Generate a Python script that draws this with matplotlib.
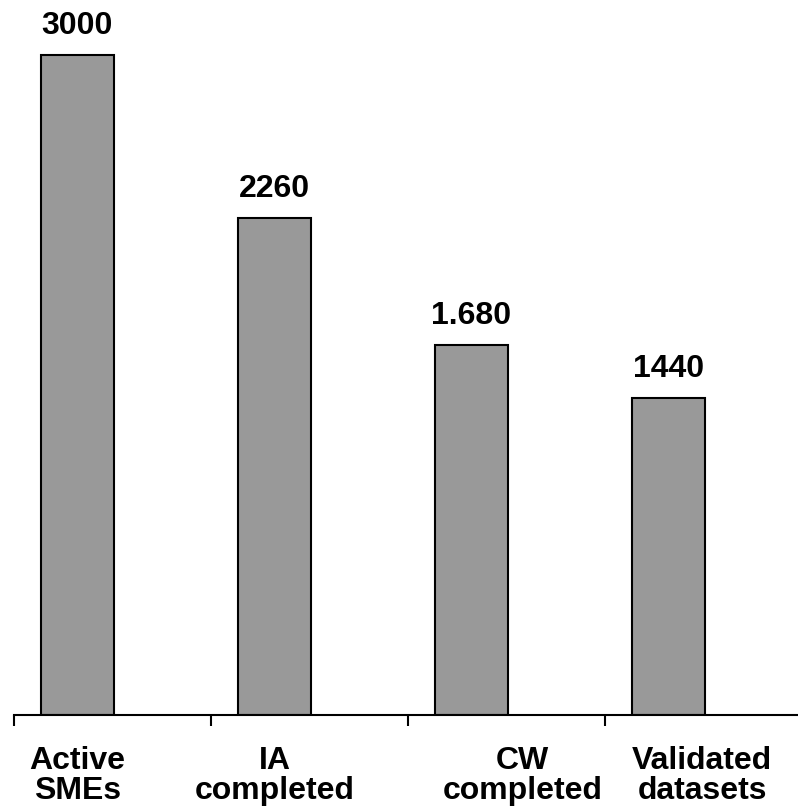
import matplotlib.pyplot as plt
import numpy as np

categories = ["Active\nSMEs", "IA\ncompleted", "CW\ncompleted", "Validated\ndatasets"]
values = [3000, 2260, 1680, 1440]
value_labels = ["3000", "2260", "1.680", "1440"]

plt.rcParams["font.family"] = ["Liberation Sans", "DejaVu Sans"]
plt.rcParams["font.weight"] = "bold"

fig = plt.figure(figsize=(7.98, 8.12), dpi=100)
ax = fig.add_axes([14 / 798, 96 / 812, 784 / 798, 716 / 812])

x = np.arange(len(values))
ax.bar(x, values, width=0.37, color="#999999", edgecolor="black", linewidth=1.5)

for xi, v, lab in zip(x, values, value_labels):
    ax.text(xi, v + 100, lab, ha="center", va="baseline", fontsize=23, fontweight="bold")

# category labels sit a little right of the bars for the last two groups
label_shift = [0.0, 0.0, 0.26, 0.17]
for xi, cat, dx in zip(x, categories, label_shift):
    ax.text(xi + dx, -135, cat, ha="center", va="top", fontsize=23,
            fontweight="bold", linespacing=1.03)

ax.set_xlim(-0.322, 3.657)
ax.set_ylim(0, 3255)
ax.set_xticks(x - 0.322)
ax.set_xticklabels([])
ax.tick_params(axis="x", direction="out", length=8, width=1.5)
ax.set_yticks([])
for side in ["left", "right", "top"]:
    ax.spines[side].set_visible(False)
ax.spines["bottom"].set_linewidth(1.5)

fig.savefig("out.png", dpi=100)
